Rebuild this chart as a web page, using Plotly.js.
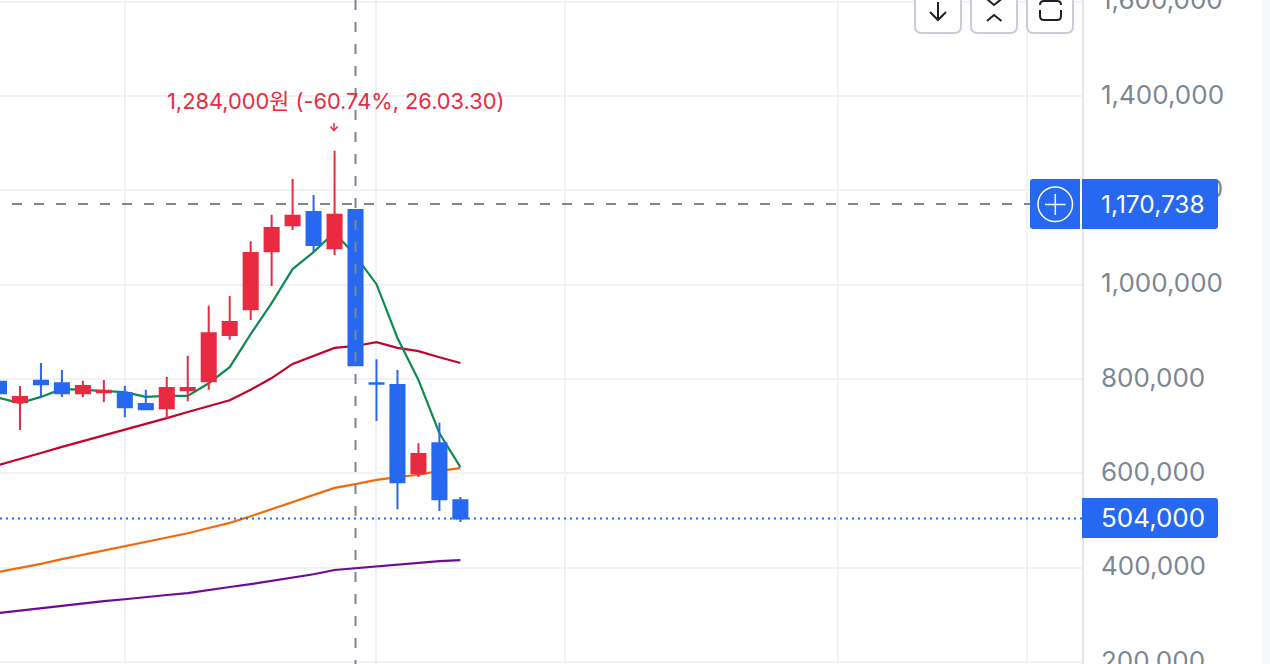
<!DOCTYPE html>
<html><head><meta charset="utf-8">
<script src="https://cdn.plot.ly/plotly-3.0.1.min.js"></script>
<style>html,body{margin:0;padding:0;background:#fff;overflow:hidden}#c{width:1270px;height:664px}</style>
</head><body><div id="c"></div>
<script>
const candleIndex=[0,1,2,3,4,5,6,7,8,9,10,11,12,13,14,15,16,17,18,19,20,21,22];
const openK=[794,751,796,791,770,772,770,747,738,776,795,893,948,1071,1126,1154,1077,1158,791,787,600,664,543];
const highK=[802,785,834,819,796,798,785,777,804,849,955,976,1092,1148,1224,1190,1284,1158,842,819,664,707,550];
const lowK=[762,692,762,762,762,751,719,736,717,753,777,883,925,997,1116,1069,1063,829,711,524,592,520,497];
const closeK=[770,762,789,770,785,775,740,736,781,781,897,921,1067,1120,1146,1084,1148,829,790,581,641,545,504];
const ma5K=[760,749,762,779,777,774,772,762,764,764,791,825,895,961,1033,1069,1111,1061,1001,887,798,685,613];
const ma20K=[618,630,643,656,668,681,693,704,717,730,743,755,777,802,832,849,866,870,878,866,859,846,834];
const ma60K=[391,399,408,418,427,436,445,454,464,473,484,495,509,524,539,554,569,577,586,592,597,605,611];
const ma120K=[304,309,314,320,325,329,333,338,342,346,353,359,365,372,379,386,395,399,403,407,411,414,416];
const yTicks=[200000,400000,600000,800000,1000000,1200000,1400000,1600000];
const yTickLabels=["200,000","400,000","600,000","800,000","1,000,000","1,200,000","1,400,000","1,600,000"];
const xGridIndex=[6,18,27,40,49];
const currentPrice=504000, crosshairPrice=1170738, crosshairIndex=17;
const xRange=[0.048,51.64], yRange=[195760,1603440], yLabelRange=[192580,1600260];
const K=a=>a.map(v=>v*1000);
const RED='#e92a40',BLUE='#2768f0',GREY='#7c8794';
const PW=1082,PH=664;
const px=x=>x/PW, py=y=>1-y/PH;
const P=(pts)=>pts.map((p,i)=>(i?'L':'M')+px(p[0])+','+py(p[1])).join(' ');
function roundRect(x0,y0,x1,y1,rl,rr){
  const c=(x,y)=>px(x)+','+py(y);
  return 'M'+c(x0+rl,y0)+' L'+c(x1-rr,y0)+' Q'+c(x1,y0)+' '+c(x1,y0+rr)+' L'+c(x1,y1-rr)+' Q'+c(x1,y1)+' '+c(x1-rr,y1)+' L'+c(x0+rl,y1)+' Q'+c(x0,y1)+' '+c(x0,y1-rl)+' L'+c(x0,y0+rl)+' Q'+c(x0,y0)+' '+c(x0+rl,y0)+' Z';
}
const pathShape=(path,o)=>Object.assign({type:'path',xref:'paper',yref:'paper',path,layer:'above',line:{width:0}},o||{});
const ma=(y,color)=>({type:'scatter',mode:'lines',x:candleIndex,y:K(y),line:{color,width:2.2},hoverinfo:'skip',showlegend:false});
const data=[
 ma(ma120K,'#6f0a96'),ma(ma60K,'#f26a0c'),ma(ma20K,'#c4042e'),ma(ma5K,'#0f8a50'),
 {type:'candlestick',xaxis:'x2',yaxis:'y2',x:candleIndex,open:K(openK),high:K(highK),low:K(lowK),close:K(closeK),
  increasing:{line:{color:RED,width:2},fillcolor:RED},decreasing:{line:{color:BLUE,width:2},fillcolor:BLUE},
  whiskerwidth:0,hoverinfo:'skip',showlegend:false},
 {type:'scatter',mode:'markers',xaxis:'x',yaxis:'y3',x:[crosshairIndex],y:[crosshairPrice],marker:{opacity:0,size:1},hoverinfo:'skip',showlegend:false}
];
const ICON='#1d2129',BTN='#c9cdda';
const shapes=[
 {type:'line',xref:'x',yref:'y',x0:0.048,x1:xRange[1],y0:currentPrice,y1:currentPrice,layer:'above',line:{color:BLUE,width:2,dash:'2px,4px'}},
 {type:'line',xref:'x',yref:'y',x0:crosshairIndex,x1:crosshairIndex,y0:yRange[1],y1:yRange[0],layer:'above',line:{color:GREY,width:2,dash:'10px,12px'}},
 {type:'line',xref:'paper',yref:'y',x0:px(12),x1:px(1030),y0:crosshairPrice,y1:crosshairPrice,layer:'above',line:{color:GREY,width:2,dash:'10px,12px'}},
 pathShape(P([[334,123],[334,130]]),{line:{color:RED,width:1.5}}),
 pathShape(P([[330.5,126.5],[334,130.5],[337.5,126.5]]),{line:{color:RED,width:1.5}}),
 pathShape(P([[1262,0],[1270,0],[1270,664],[1262,664]])+' Z',{fillcolor:'#f7f8fa'}),
 pathShape(roundRect(915,-12,961,33,7,7),{fillcolor:'#fff',line:{color:BTN,width:2}}),
 pathShape(roundRect(971,-12,1017,33,7,7),{fillcolor:'#fff',line:{color:BTN,width:2}}),
 pathShape(roundRect(1027,-12,1073,33,7,7),{fillcolor:'#fff',line:{color:BTN,width:2}}),
 pathShape(P([[938,2],[938,19]]),{line:{color:ICON,width:2}}),
 pathShape(P([[930,12],[938,20],[946,12]]),{line:{color:ICON,width:2}}),
 pathShape(P([[987,-1],[994,5],[1001.5,-1]]),{line:{color:ICON,width:2}}),
 pathShape(P([[987,21],[994,15],[1001.5,21]]),{line:{color:ICON,width:2}}),
 pathShape('M'+px(1040)+','+py(10)+' L'+px(1040)+','+py(16)+' Q'+px(1040)+','+py(20)+' '+px(1044)+','+py(20)+' L'+px(1057)+','+py(20)+' Q'+px(1061)+','+py(20)+' '+px(1061)+','+py(16)+' L'+px(1061)+','+py(10),{line:{color:ICON,width:2}}),
 pathShape('M'+px(1040)+','+py(5)+' Q'+px(1040)+','+py(1)+' '+px(1044)+','+py(1)+' L'+px(1057)+','+py(1)+' Q'+px(1061)+','+py(1)+' '+px(1061)+','+py(5),{line:{color:ICON,width:2}}),
 pathShape(roundRect(1030,179,1218,229,3,3),{fillcolor:BLUE}),
 pathShape(P([[1081,179],[1081,229]]),{line:{color:'#fff',width:2}}),
 {type:'circle',xref:'paper',yref:'paper',x0:px(1038),x1:px(1072.5),y0:py(221.5),y1:py(187),layer:'above',line:{color:'#fff',width:1.5}},
 pathShape(P([[1045,204.5],[1065.5,204.5]]),{line:{color:'#fff',width:1.5}}),
 pathShape(P([[1055.3,194],[1055.3,215]]),{line:{color:'#fff',width:1.5}}),
 pathShape(roundRect(1082,498,1218,538,0.01,3),{fillcolor:BLUE})
];
const FONT='Inter, "Noto Sans CJK KR", sans-serif';
const note=(x,y,text,color,size,anchor)=>({xref:'paper',yref:'paper',x:px(x),y:py(y),text,showarrow:false,xanchor:anchor||'left',yanchor:'middle',font:{family:FONT,size,color},borderpad:0,borderwidth:0});
const layout={
 width:1270,height:664,margin:{l:0,r:188,t:0,b:0,pad:0},paper_bgcolor:'#fff',plot_bgcolor:'#fff',
 showlegend:false,boxgap:0.33,boxgroupgap:0,dragmode:false,hovermode:false,
 xaxis:{type:'linear',range:xRange,rangeslider:{visible:false},tickmode:'array',tickvals:xGridIndex,showticklabels:false,ticks:'',showgrid:true,gridcolor:'#f1f2f6',gridwidth:2,zeroline:false,showline:false},
 xaxis2:{type:'linear',range:xRange,overlaying:'x',visible:false,rangeslider:{visible:false},showgrid:false,zeroline:false},
 yaxis:{side:'right',range:yRange,tickmode:'array',tickvals:yTicks,showticklabels:false,ticks:'',showgrid:true,gridcolor:'#f1f2f6',gridwidth:2,zeroline:false,showline:true,linecolor:'#e3e6eb',linewidth:2},
 yaxis2:{range:yRange,overlaying:'y',side:'right',visible:false,showgrid:false,zeroline:false},
 yaxis3:{range:yLabelRange,overlaying:'y',side:'right',tickmode:'array',tickvals:yTicks,ticktext:yTickLabels,ticks:'',ticklen:0,ticklabelstandoff:18,ticklabeloverflow:'allow',showgrid:false,zeroline:false,showline:false,tickfont:{family:FONT,size:26,color:GREY}},
 shapes,
 annotations:[
  note(167,100.5,'1,284,000원 (-60.74%, 26.03.30)',RED,21.8),
  note(1101,204,'1,170,738','#fff',24.5),
  note(1101,517,'504,000','#fff',26)
 ]
};
Plotly.newPlot('c',data,layout,{displayModeBar:false,staticPlot:true});
</script></body></html>
